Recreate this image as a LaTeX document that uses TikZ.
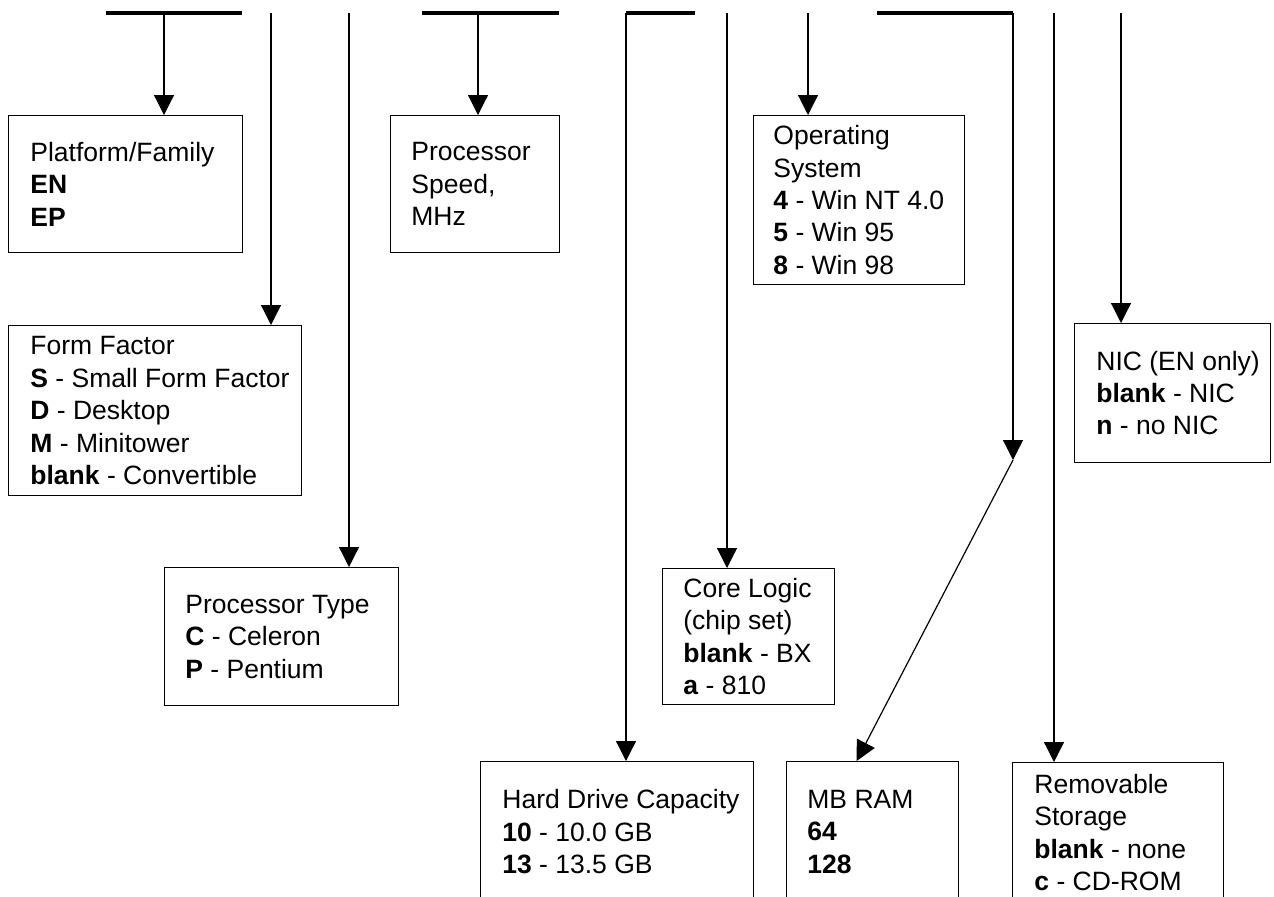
\documentclass[tikz,border=0pt]{standalone}
\usepackage{fontspec}
\setmainfont{Liberation Sans}
\usepackage{tikz}
\usetikzlibrary{arrows.meta,positioning}

\begin{document}
\begin{tikzpicture}[x=0.5pt, y=-0.5pt, font=\fontsize{13.25}{16.2}\selectfont,
  frame/.style 2 args={draw, line width=0.6pt, anchor=north west, inner sep=0,
    minimum width=#1*0.5pt, minimum height=#2*0.5pt},
  entry/.style={align=left, inner sep=0},
  bus/.style={line width=2.4pt},
  arr/.style={line width=0.6pt, -{Triangle[length=10pt, width=10pt]}}]
  \useasboundingbox (0,0) rectangle (1274,896);
  \clip (0,0) rectangle (1274,896);

  % boxes
  \node[frame={234}{137}] (plat)  at (8,115)    {};
  \node[frame={169}{137}] (speed) at (390,115)  {};
  \node[frame={211}{169}] (os)    at (753,115)  {};
  \node[frame={293}{170}] (form)  at (8,325)    {};
  \node[frame={196}{139}] (nic)   at (1074,323) {};
  \node[frame={234}{138}] (ptype) at (164,567)  {};
  \node[frame={172}{136}] (core)  at (662,568)  {};
  \node[frame={273}{140}] (hd)    at (480,761)  {};
  \node[frame={172}{140}] (ram)   at (786,761)  {};
  \node[frame={211}{140}] (rem)   at (1012,762) {};

  % texts
  \node[entry, right=11pt of plat.west]  (plat-t)  {Platform/Family\\\textbf{EN}\\\textbf{EP}};
  \node[entry, right=10.5pt of speed.west] (speed-t) {Processor\\Speed,\\MHz};
  \node[entry, right=10pt of os.west]    (os-t)    {Operating\\System\\\textbf{4} - Win NT 4.0\\\textbf{5} - Win 95\\\textbf{8} - Win 98};
  \node[entry, right=11pt of form.west]  (form-t)  {Form Factor\\\textbf{S} - Small Form Factor\\\textbf{D} - Desktop\\\textbf{M} - Minitower\\\textbf{blank} - Convertible};
  \node[entry, right=11pt of nic.west]   (nic-t)   {NIC (EN only)\\\textbf{blank} - NIC\\\textbf{n} - no NIC};
  \node[entry, right=10.5pt of ptype.west] (ptype-t) {Processor Type\\\textbf{C} - Celeron\\\textbf{P} - Pentium};
  \node[entry, right=10.5pt of core.west]  (core-t)  {Core Logic\\(chip set)\\\textbf{blank} - BX\\\textbf{a} - 810};
  \node[entry, right=11pt of hd.west]    (hd-t)    {Hard Drive Capacity\\\textbf{10} - 10.0 GB\\\textbf{13} - 13.5 GB};
  \node[entry, right=10.5pt of ram.west] (ram-t)   {MB RAM\\\textbf{64}\\\textbf{128}};
  \node[entry, right=11pt of rem.west]   (rem-t)   {Removable\\Storage\\\textbf{blank} - none\\\textbf{c} - CD-ROM};

  % top bars
  \draw[bus] (106,13) -- (242,13);
  \draw[bus] (422,13) -- (559,13);
  \draw[bus] (626,13) -- (695,13);
  \draw[bus] (877,13) -- (1013,13);

  % connectors
  \foreach \n/\x in {plat/164, form/271, ptype/349, speed/478, hd/626,
                     core/727, os/808, ram/1013, rem/1054, nic/1121}
    \coordinate (top-\n) at (\x,13);
  \foreach \n in {plat, form, ptype, speed, hd, core, os, rem, nic}
    \draw[arr] (top-\n) -- (top-\n |- \n.north);
  \coordinate (bend) at (1013,460);
  \draw[arr] (top-ram) -- (bend);
  \draw[arr] (bend) -- ([xshift=-8pt]ram.north);
\end{tikzpicture}
\end{document}
